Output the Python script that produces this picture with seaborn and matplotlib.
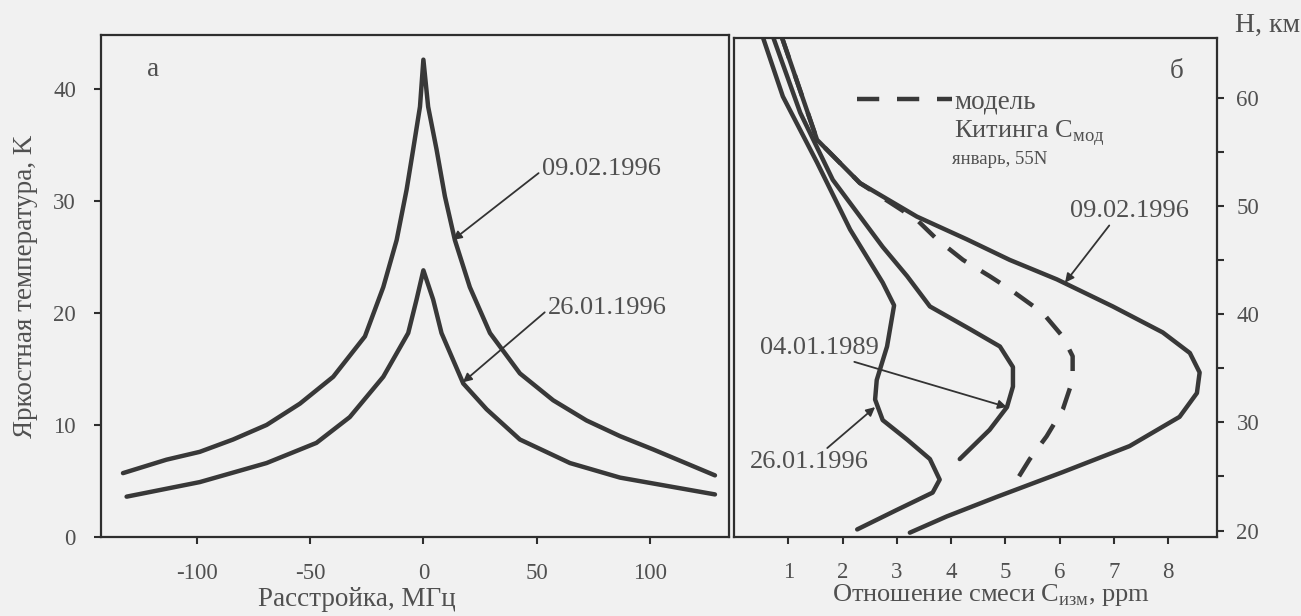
import numpy as np
import pandas as pd
import matplotlib
matplotlib.use("Agg")
import matplotlib.pyplot as plt
import seaborn as sns

# ---------------- data: left panel (brightness temperature spectra) ----------------
det_0902 = [-132.6, -113.4, -98.7, -84.0, -69.2, -54.5, -39.8, -25.8, -17.7, -11.8, -7.4, -4.5,
            -1.5, 0.0, 2.1, 5.8, 9.5, 13.9, 20.5, 29.4, 42.6, 57.3, 72.0, 86.8, 101.6, 128.7]
tb_0902 = [5.7, 6.9, 7.6, 8.7, 10.0, 11.9, 14.3, 17.9, 22.3, 26.5, 31.0, 34.6,
           38.4, 42.6, 38.4, 34.6, 30.4, 26.5, 22.3, 18.2, 14.6, 12.2, 10.4, 9.0, 7.8, 5.5]

det_2601 = [-131.0, -98.7, -69.2, -47.2, -32.5, -17.7, -6.7, -3.0, 0.0,
            4.3, 8.0, 17.6, 27.9, 42.6, 64.7, 86.8, 128.7]
tb_2601 = [3.6, 4.9, 6.6, 8.4, 10.7, 14.3, 18.2, 21.2, 23.8,
           21.2, 18.2, 13.7, 11.4, 8.7, 6.6, 5.3, 3.8]

left_xticks = [-100, -50, 0, 50, 100]
left_yticks = [0, 10, 20, 30, 40]

# ---------------- data: right panel (mixing ratio profiles) ----------------
c_2601 = [0.53, 0.90, 1.53, 2.14, 2.74, 2.95, 2.82, 2.63, 2.60, 2.74, 3.19, 3.61, 3.79, 3.66, 3.0, 2.27]
h_2601 = [65.6, 60.1, 54.0, 47.8, 42.9, 40.8, 37.0, 33.9, 32.1, 30.2, 28.4, 26.6, 24.7, 23.5, 21.9, 20.1]

c_8901 = [0.72, 1.22, 1.82, 2.74, 3.19, 3.61, 4.35, 4.90, 5.14, 5.14, 5.03, 4.71, 4.16]
h_8901 = [65.6, 58.6, 52.4, 46.2, 43.5, 40.7, 38.6, 37.0, 35.1, 33.3, 31.4, 29.3, 26.6]

c_0902 = [0.88, 1.53, 2.32, 3.37, 4.29, 5.08, 5.95, 6.98, 7.90, 8.40, 8.58, 8.53, 8.21,
          7.29, 6.06, 4.84, 3.92, 3.24]
h_0902 = [65.6, 56.1, 52.1, 49.0, 46.9, 45.0, 43.2, 40.7, 38.3, 36.4, 34.6, 32.7, 30.5,
          27.8, 25.4, 23.1, 21.3, 19.8]

c_model = [0.88, 1.53, 2.32, 3.37, 3.74, 4.22, 4.71, 5.08, 5.69, 6.06, 6.24, 6.24, 6.06,
           5.76, 5.45, 5.14]
h_model = [65.6, 56.1, 52.1, 48.7, 46.9, 45.0, 43.5, 42.3, 40.1, 37.9, 36.1, 33.9, 31.2,
           28.7, 26.6, 24.1]

right_xticks = [1, 2, 3, 4, 5, 6, 7, 8]
right_yticks = [20, 30, 40, 50, 60]
right_yminor = [25, 35, 45, 55]

# ---------------- style ----------------
sns.set_style("ticks")
plt.rcParams["font.family"] = ["Liberation Serif", "DejaVu Serif"]
plt.rcParams["mathtext.fontset"] = "custom"
plt.rcParams["mathtext.rm"] = "Liberation Serif"

BG = "#f1f1f1"
LINE = "#383838"
TXT = "#505050"
LW = 3.2
FS_LAB = 19.5
FS_DATE = 19
FS_TICK = 16.5

fig = plt.figure(figsize=(13.01, 6.16), dpi=100, facecolor=BG)
W, H = 1301, 616
ax1 = fig.add_axes([101 / W, 1 - 537 / H, 628 / W, 502 / H])
ax2 = fig.add_axes([734 / W, 1 - 537 / H, 483 / W, 499 / H])
for ax in (ax1, ax2):
    ax.set_facecolor(BG)
    for s in ax.spines.values():
        s.set_linewidth(1.6)
        s.set_color("#2e2e2e")
    ax.tick_params(direction="out", length=5, width=1.5, color="#2e2e2e",
                   labelsize=FS_TICK, labelcolor=TXT)
ax1.tick_params(axis="x", pad=14)
ax1.tick_params(axis="y", pad=13)
ax2.tick_params(axis="x", pad=13)
ax2.tick_params(axis="y", pad=9)

# ---------------- left panel ----------------
df_a = pd.DataFrame({"x": det_0902, "y": tb_0902})
df_b = pd.DataFrame({"x": det_2601, "y": tb_2601})
sns.lineplot(data=df_a, x="x", y="y", ax=ax1, sort=False, estimator=None,
             color=LINE, lw=LW, solid_joinstyle="round")
sns.lineplot(data=df_b, x="x", y="y", ax=ax1, sort=False, estimator=None,
             color=LINE, lw=LW, solid_joinstyle="round")
ax1.set_xlim(-142.3, 134.9)
ax1.set_ylim(0, 44.8)
ax1.set_xticks(left_xticks)
ax1.set_xticklabels([str(v) for v in left_xticks])
ax1.set_yticks(left_yticks)
ax1.set_xlabel("Расстройка, МГц", fontsize=FS_LAB, color=TXT)
ax1.xaxis.set_label_coords(0.408, -0.100)
ax1.set_ylabel("Яркостная температура, K", fontsize=FS_LAB, color=TXT)
ax1.yaxis.set_label_coords(-0.100, 0.5)
ax1.text(-119.5, 41.7, "а", fontsize=FS_LAB, color=TXT, ha="center", va="center")

arrow_kw = dict(arrowstyle="-|>", lw=1.3, color="#333333", mutation_scale=13,
                shrinkA=0, shrinkB=0)
ax1.annotate("09.02.1996", xy=(13.0, 26.5), xytext=(52.3, 32.8), fontsize=FS_DATE, color=TXT,
             ha="left", va="center", arrowprops=dict(arrow_kw, relpos=(0, 0.45)))
ax1.annotate("26.01.1996", xy=(17.4, 13.8), xytext=(55.0, 20.4), fontsize=FS_DATE, color=TXT,
             ha="left", va="center", arrowprops=dict(arrow_kw, relpos=(0, 0.45)))

# ---------------- right panel ----------------
for cx, hy in [(c_2601, h_2601), (c_8901, h_8901), (c_0902, h_0902)]:
    sns.lineplot(x=cx, y=hy, ax=ax2, sort=False, estimator=None, color=LINE, lw=LW,
                 solid_joinstyle="round", label="_nolegend_")
sns.lineplot(x=c_model, y=h_model, ax=ax2, sort=False, estimator=None, color=LINE, lw=LW,
             linestyle=(0, (5, 4)), label="модель")
ax2.set_xlim(0, 8.9)
ax2.set_ylim(19.4, 65.5)
ax2.set_xticks(right_xticks)
ax2.yaxis.tick_right()
ax2.set_yticks(right_yticks)
ax2.set_yticks(right_yminor, minor=True)
ax2.tick_params(axis="y", which="minor", direction="out", length=5, width=1.5, color="#2e2e2e")
ax2.set_xlabel("Отношение смеси C$_\\mathregular{изм}$, ppm", fontsize=19, color=TXT)
ax2.xaxis.set_label_coords(0.532, -0.090)
ax2.set_ylabel("")

leg = ax2.legend(loc="center left", bbox_to_anchor=(0.255, 0.872), frameon=False,
                 fontsize=FS_LAB, handlelength=3.5, handletextpad=0.1, borderpad=0,
                 borderaxespad=0)
for t in leg.get_texts():
    t.set_color(TXT)
ax2.text(4.05, 56.75, "Китинга C$_\\mathregular{мод}$", fontsize=19, color=TXT,
         ha="left", va="center")
ax2.text(4.02, 54.3, "январь, 55N", fontsize=13.5, color=TXT, ha="left", va="center")
ax2.text(8.16, 62.4, "б", fontsize=FS_LAB, color=TXT, ha="center", va="center")

ax2.annotate("09.02.1996", xy=(6.10, 42.9), xytext=(7.29, 49.5), fontsize=FS_DATE, color=TXT,
             ha="center", va="center", arrowprops=dict(arrow_kw, relpos=(0.35, 0.0)))
ax2.annotate("04.01.1989", xy=(5.03, 31.4), xytext=(0.48, 36.9), fontsize=FS_DATE, color=TXT,
             ha="left", va="center", arrowprops=dict(arrow_kw, relpos=(0.7, 0.0)))
ax2.annotate("26.01.1996", xy=(2.60, 31.4), xytext=(0.29, 26.3), fontsize=FS_DATE, color=TXT,
             ha="left", va="center", arrowprops=dict(arrow_kw, relpos=(0.62, 1.0)))

fig.text(1235 / W, 1 - 25 / H, "H, км", fontsize=20, color=TXT, ha="left", va="center")

fig.savefig("out.png", dpi=100, facecolor=BG)
